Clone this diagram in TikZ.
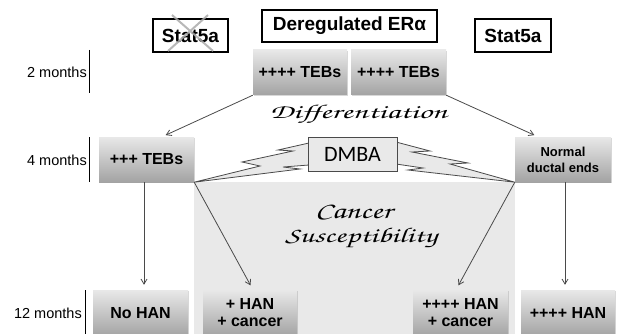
\documentclass[tikz,border=0pt]{standalone}
\usepackage[T1]{fontenc}
\usepackage{fontspec}
\usepackage{graphicx}
\setmainfont{Liberation Sans}
\newfontfamily\carl{Carlito}
\usetikzlibrary{arrows.meta,shadows,calc}
\definecolor{speck}{HTML}{E9E9E9}
\definecolor{lin}{HTML}{4A4A4A}
\newcommand\handf{\usefont{T1}{pzc}{mb}{it}}
\begin{document}
\begin{tikzpicture}[x=1pt,y=-1pt,
  gbox/.style={top color=black!9, bottom color=black!36, inner sep=0pt,
    minimum width=95pt, minimum height=45pt, align=center,
    font=\bfseries\fontsize{16}{17}\selectfont,
    drop shadow={opacity=.3, shadow xshift=1.2pt, shadow yshift=-1.2pt}},
  wbox/.style={draw=black, line width=1.8pt, fill=white, inner sep=0pt,
    minimum height=33pt, font=\bfseries\fontsize{19}{20}\selectfont},
  month/.style={anchor=east, inner sep=0pt, font=\fontsize{14.5}{16}\selectfont},
  mline/.style={draw=black, line width=0.9pt},
  arr/.style={draw=lin, line width=0.8pt, -{Straight Barb[length=5pt,width=6pt]}},
  conn/.style={draw=lin, line width=0.8pt},
  bolt/.style={draw=lin, line width=0.8pt, fill=speck, line join=miter},
  hand/.style={anchor=base, inner sep=0pt}]
\clip (0,0) rectangle (618,334);
\fill[white] (0,0) rectangle (618,334);
% cancer susceptibility region
\fill[speck] (194,182) rectangle (515,340);
% top boxes
\node[wbox, minimum width=75pt] (stL) at (190.5,35.5) {Stat5a};
\draw[gray!65, line width=2pt, opacity=.85] (172,15) -- (213,51) (208,15) -- (168,51);
\node[wbox, minimum width=175pt, minimum height=32pt] (der) at (349.5,26) {Deregulated ERα};
\node[wbox, minimum width=76pt] (stR) at (513,35.5) {Stat5a};
% months
\node[month] (m2) at (87,72) {2 months};
\draw[mline] (89,50) -- (89,93);
\node[month] (m4) at (87,160) {4 months};
\draw[mline] (89,137) -- (89,182);
\node[month] (m12) at (82,313) {12 months};
\draw[mline] (85,290) -- (85,334);
% 2 month TEBs
\node[gbox, minimum width=94pt] (tA) at (300,72.5) {++++ TEBs};
\node[gbox] (tB) at (398.5,72.5) {++++ TEBs};
\node[hand] (diff) at (358.5,118.5) {\resizebox{177pt}{14pt}{\handf Differentiation}};
% 4 months
\node[gbox] (t3) at (146.5,159.5) {+++ TEBs};
\node[gbox, minimum width=96pt, font=\bfseries\fontsize{13}{16}\selectfont] (nde) at (563,159.5) {Normal\\ductal ends};
% bolts
\draw[bolt] (t3.south east) -- (260,166) -- (242,162) -- (293,151) -- (278,150) -- (309,143)
  -- (309,165) -- (283,167) -- (300,169) -- cycle;
\draw[bolt] (396,142) -- (430,151) -- (412,152) -- (468,163) -- (450,164) -- (nde.south west)
  -- (408,170) -- (423,168) -- (396,164) -- cycle;
\node[draw=lin, line width=0.8pt, fill=speck, minimum width=89pt, minimum height=34pt,
  inner sep=0pt, font=\carl\fontsize{22}{24}\selectfont] (dmba) at (352.5,154) {DMBA};
\node[hand] (can) at (353.5,218.5) {\resizebox{77pt}{14pt}{\handf Cancer}};
\node[hand] (sus) at (361,242) {\resizebox{152pt}{15pt}{\handf Susceptibility}};
% 12 months
\node[gbox, minimum height=46pt] (nh) at (140.5,313) {No HAN};
\node[gbox, minimum width=94pt, minimum height=46pt] (h1) at (250,313) {+ HAN\\+ cancer};
\node[gbox, minimum height=46pt] (h4c) at (460.5,313) {++++ HAN\\+ cancer};
\node[gbox, minimum width=94pt, minimum height=46pt] (h4) at (568,313) {++++ HAN};
% connectors
\draw[arr, shorten >=4pt] (tA.south west) -- ($(t3.north)+(15.5,0)$);
\draw[arr, shorten >=4pt] (tB.south east) -- ($(nde.north)+(-25,0)$);
\draw[arr, shorten >=5pt] ([xshift=-2.5pt]t3.south) -- ([xshift=-2.5pt]t3.south |- nh.north);
\draw[arr, shorten >=5pt] (t3.south east) -- ($(h1.north)+(3,0)$);
\draw[arr, shorten >=5pt] (nde.south west) -- ($(h4c.north)+(-4.5,0)$);
\draw[arr, shorten >=5pt] ([xshift=2pt]nde.south) -- ([xshift=2pt]nde.south |- h4.north);
\end{tikzpicture}
\end{document}
